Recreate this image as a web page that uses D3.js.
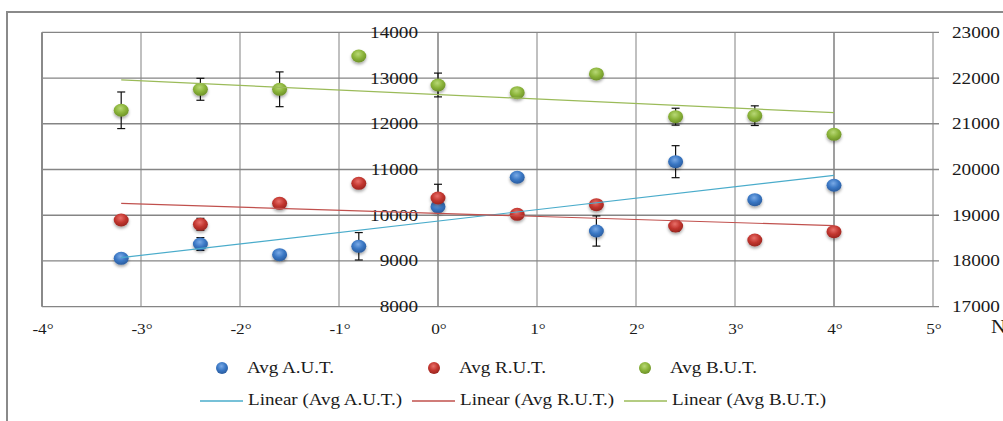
<!DOCTYPE html>
<html><head><meta charset="utf-8">
<script src="https://cdn.jsdelivr.net/npm/d3@7"></script>
<style>html,body{margin:0;padding:0;background:#fff;overflow:hidden}</style>
</head><body>
<svg id="c" width="1003" height="421"></svg>
<script>
const xValues = [-3.2, -2.4, -1.6, -0.8, 0, 0.8, 1.6, 2.4, 3.2, 4];
const seriesNames = ["Avg A.U.T.", "Avg R.U.T.", "Avg B.U.T."];
const autValues = [9058, 9371, 9137, 9321, 10187, 10830, 9655, 11171, 10340, 10655];
const rutValues = [9896, 9802, 10261, 10698, 10377, 10020, 10230, 9765, 9459, 9640];
const butValues = [12295, 12754, 12754, 13482, 12848, 12680, 13089, 12155, 12177, 11770];
const autErrors = [0, 140, 0, 300, 0, 0, 330, 350, 0, 0];
const rutErrors = [0, 130, 0, 0, 300, 0, 0, 120, 0, 0];
const butErrors = [400, 240, 380, 0, 260, 0, 0, 185, 215, 0];
const xTicks = [-4, -3, -2, -1, 0, 1, 2, 3, 4, 5];
const leftTicks = [8000, 9000, 10000, 11000, 12000, 13000, 14000];
const rightTicks = [17000, 18000, 19000, 20000, 21000, 22000, 23000];

const svg = d3.select("#c");
const FONT = "'Liberation Serif','Times New Roman',serif";
const x = d3.scaleLinear().domain([-4, 5]).range([42, 933]);
const yL = d3.scaleLinear().domain([8000, 14000]).range([306.7, 32.3]);
const yR = d3.scaleLinear().domain([17000, 23000]).range([306.7, 32.3]);

const series = [
  {name: seriesNames[0], vals: autValues, errs: autErrors, c: "#3a77c4", hi: "#7aaae6", lo: "#2a5c9e", trend: "#4aaccb"},
  {name: seriesNames[1], vals: rutValues, errs: rutErrors, c: "#c2362f", hi: "#e8706a", lo: "#9a2520", trend: "#c0504d"},
  {name: seriesNames[2], vals: butValues, errs: butErrors, c: "#8bb43a", hi: "#b8d876", lo: "#6d9128", trend: "#9bbb59"}
];

const defs = svg.append("defs");
series.forEach((s, i) => {
  const g = defs.append("radialGradient").attr("id", "g" + i).attr("cx", "45%").attr("cy", "35%").attr("r", "65%");
  g.append("stop").attr("offset", "0%").attr("stop-color", s.hi);
  g.append("stop").attr("offset", "55%").attr("stop-color", s.c);
  g.append("stop").attr("offset", "100%").attr("stop-color", s.lo);
});
const f = defs.append("filter").attr("id", "sh").attr("x", "-50%").attr("y", "-50%").attr("width", "200%").attr("height", "200%");
f.append("feDropShadow").attr("dx", 0).attr("dy", 2).attr("stdDeviation", 1.6).attr("flood-color", "#000").attr("flood-opacity", 0.35);

// outer border
svg.append("rect").attr("x", 7).attr("y", 12).attr("width", 1010).attr("height", 430)
  .attr("fill", "none").attr("stroke", "#8a8a8a").attr("stroke-width", 2);

// vertical gridlines
svg.append("g").selectAll("line").data(xTicks.filter(t => t > -4)).join("line")
  .attr("x1", d => x(d)).attr("x2", d => x(d)).attr("y1", yL(14000)).attr("y2", yL(8000))
  .attr("stroke", d => (d === 0 || d === 4) ? "#7f7f7f" : "#c0c0c0")
  .attr("stroke-width", d => (d === 0 || d === 4) ? 1.5 : 2);
// horizontal gridlines
svg.append("g").selectAll("line").data(leftTicks).join("line")
  .attr("x1", x(-4)).attr("x2", x(5) + 6).attr("y1", d => yL(d)).attr("y2", d => yL(d))
  .attr("stroke", "#858585").attr("stroke-width", 1.3);
// left border
svg.append("line").attr("x1", x(-4)).attr("x2", x(-4)).attr("y1", yL(14000)).attr("y2", yL(8000))
  .attr("stroke", "#8a8a8a").attr("stroke-width", 2);

function addText(txt, px, py, size, anchor, sx) {
  const t = svg.append("text").attr("transform", `translate(${px},${py}) scale(${sx},1)`)
    .attr("font-family", FONT).attr("font-size", size).attr("fill", "#1a1a1a")
    .attr("text-anchor", anchor).text(txt);
  return t;
}
// left axis labels at x=0
leftTicks.forEach(t => addText(String(t), x(0) - 20, yL(t) + 5.5, 16, "end", 1.2));
// right axis labels
rightTicks.forEach(t => addText(String(t), x(5) + 19, yR(t) + 5.5, 16, "start", 1.2));
// x labels
xTicks.forEach(t => addText(t + "°", x(t) + 1, 334, 15, "middle", 1.15));
addText("N", 991, 333, 19, "start", 1.1);

// error bars
series.forEach(s => {
  const g = svg.append("g").attr("stroke", "#111").attr("stroke-width", 1.2);
  xValues.forEach((xv, j) => {
    const e = s.errs[j];
    if (!e) return;
    const cx = x(xv), y1 = yL(s.vals[j] + e), y2 = yL(s.vals[j] - e);
    g.append("line").attr("x1", cx).attr("x2", cx).attr("y1", y1).attr("y2", y2);
    g.append("line").attr("x1", cx - 4).attr("x2", cx + 4).attr("y1", y1).attr("y2", y1);
    g.append("line").attr("x1", cx - 4).attr("x2", cx + 4).attr("y1", y2).attr("y2", y2);
  });
});

// markers
series.forEach((s, i) => {
  svg.append("g").selectAll("ellipse").data(xValues.map((xv, j) => [xv, s.vals[j]])).join("ellipse")
    .attr("cx", d => x(d[0])).attr("cy", d => yL(d[1])).attr("rx", 7.5).attr("ry", 6.5)
    .attr("fill", `url(#g${i})`).attr("filter", "url(#sh)");
});

// trend lines (least squares)
function fit(xs, ys) {
  const mx = d3.mean(xs), my = d3.mean(ys);
  let num = 0, den = 0;
  xs.forEach((v, k) => { num += (v - mx) * (ys[k] - my); den += (v - mx) * (v - mx); });
  const b = num / den; return v => my + b * (v - mx);
}
series.forEach(s => {
  const fn = fit(xValues, s.vals);
  const x0 = d3.min(xValues), x1 = d3.max(xValues);
  svg.append("line").attr("x1", x(x0)).attr("y1", yL(fn(x0))).attr("x2", x(x1)).attr("y2", yL(fn(x1)))
    .attr("stroke", s.trend).attr("stroke-width", 1.2);
});

// legend
const legX = [222, 434, 645];
series.forEach((s, i) => {
  svg.append("circle").attr("cx", legX[i]).attr("cy", 368).attr("r", 6).attr("fill", `url(#g${i})`);
  addText(s.name, legX[i] + 25, 373, 16, "start", 1.19);
});
const lineX = [200, 412, 624];
series.forEach((s, i) => {
  svg.append("line").attr("x1", lineX[i]).attr("x2", lineX[i] + 43).attr("y1", 401).attr("y2", 401)
    .attr("stroke", s.trend).attr("stroke-width", 1.3);
  addText("Linear (" + s.name + ")", lineX[i] + 48, 405, 16, "start", 1.19);
});
</script>
</body></html>
